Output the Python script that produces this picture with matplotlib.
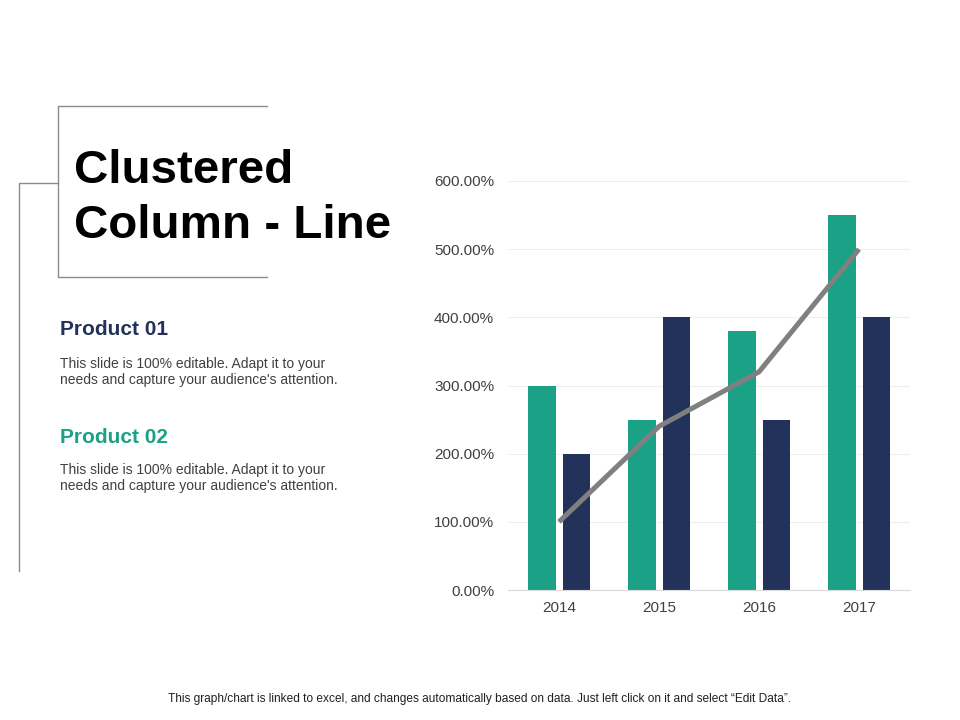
import matplotlib
matplotlib.use("Agg")
import matplotlib.pyplot as plt  # noqa: E402
from matplotlib.lines import Line2D  # noqa: E402
from matplotlib.ticker import FuncFormatter  # noqa: E402

years: list[str] = ["2014", "2015", "2016", "2017"]
product_02: list[float] = [300, 250, 380, 550]
product_01: list[float] = [200, 400, 250, 400]
trend: list[float] = [100, 240, 320, 500]
y_ticks: list[float] = [0, 100, 200, 300, 400, 500, 600]

GREEN = "#1aa186"
NAVY = "#22325a"
GREY = "#808080"
TEXT = "#404040"
BODY = "This slide is 100% editable. Adapt it to your\nneeds and capture your audience's attention."

plt.rcParams["font.family"] = ["Liberation Sans", "DejaVu Sans"]

W, H = 960, 720
fig = plt.figure(figsize=(9.6, 7.2), dpi=100)


def fx(px: float) -> float:
    return px / W


def fy(py: float) -> float:
    return 1 - py / H


def frame_line(xs: list[float], ys: list[float]) -> None:
    fig.add_artist(Line2D([fx(x) for x in xs], [fy(y) for y in ys],
                          color="#8c8c8c", lw=1.0))


# decorative frame on the left
frame_line([267, 58, 58, 267], [106, 106, 277, 277])
frame_line([58, 19, 19], [183, 183, 571])

fig.text(fx(74), fy(183), "Clustered", fontsize=34.2, fontweight="bold",
         color="black", va="baseline")
fig.text(fx(74), fy(238), "Column - Line", fontsize=34.2, fontweight="bold",
         color="black", va="baseline")

fig.text(fx(60), fy(335), "Product 01", fontsize=15, fontweight="bold",
         color=NAVY, va="baseline")
fig.text(fx(60), fy(357), BODY, fontsize=10, color=TEXT, va="top",
         linespacing=1.2)
fig.text(fx(60), fy(443), "Product 02", fontsize=15, fontweight="bold",
         color=GREEN, va="baseline")
fig.text(fx(60), fy(463), BODY, fontsize=10, color=TEXT, va="top",
         linespacing=1.2)

fig.text(0.5, fy(699),
         "This graph/chart is linked to excel, and changes automatically based "
         "on data. Just left click on it and select \u201cEdit Data\u201d.",
         fontsize=8.6, color="#202020", ha="center", va="center")

# chart
ax = fig.add_axes((fx(508), fy(590), fx(910 - 508), fy(181) - fy(590)))
xs = list(range(len(years)))
ax.bar([x - 0.17 for x in xs], product_02, width=0.28, color=GREEN, zorder=2)
ax.bar([x + 0.17 for x in xs], product_01, width=0.27, color=NAVY, zorder=2)
ax.plot(xs, trend, color=GREY, lw=3.6, solid_capstyle="butt",
        solid_joinstyle="round", zorder=3, clip_on=False)

ax.set_xlim(-0.51, 3.51)
ax.set_ylim(0, 600)
ax.set_yticks(y_ticks)
ax.yaxis.set_major_formatter(FuncFormatter(lambda v, _: f"{v:.2f}%"))
ax.set_xticks(xs)
ax.set_xticklabels(years)
ax.grid(axis="y", color="#efefef", lw=0.8, zorder=0)
ax.set_axisbelow(True)
for side in ("top", "right", "left"):
    ax.spines[side].set_visible(False)
ax.spines["bottom"].set_color("#d9d9d9")
ax.tick_params(axis="both", length=0, labelsize=11, colors=TEXT)
ax.tick_params(axis="y", pad=10)
ax.tick_params(axis="x", pad=8)

fig.savefig("out.png", dpi=100, facecolor="white")
